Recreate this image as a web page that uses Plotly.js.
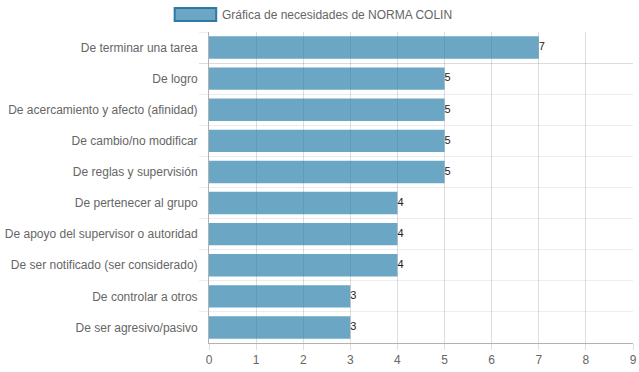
<!DOCTYPE html>
<html>
<head>
<meta charset="utf-8">
<script src="https://cdn.plot.ly/plotly-3.0.1.min.js"></script>
<style>html,body{margin:0;padding:0;background:#fff;}#chart{width:639px;height:372px;}</style>
</head>
<body>
<div id="chart"></div>
<script>
var categories = [
  "De terminar una tarea",
  "De logro",
  "De acercamiento y afecto (afinidad)",
  "De cambio/no modificar",
  "De reglas y supervisión",
  "De pertenecer al grupo",
  "De apoyo del supervisor o autoridad",
  "De ser notificado (ser considerado)",
  "De controlar a otros",
  "De ser agresivo/pasivo"
];
var values = [7, 5, 5, 5, 5, 4, 4, 4, 3, 3];
var seriesName = "Gráfica de necesidades de NORMA COLIN";
var xTicks = [0, 1, 2, 3, 4, 5, 6, 7, 8, 9];

var barFill = "rgba(38,124,170,0.68)";

var bars = {
  type: "bar",
  orientation: "h",
  x: values,
  y: categories,
  name: seriesName,
  marker: {color: barFill, line: {width: 0}},
  hoverinfo: "x+y"
};

var labels = {
  type: "scatter",
  mode: "text",
  x: values,
  y: categories,
  text: values.map(String),
  textposition: "middle right",
  cliponaxis: false,
  textfont: {family: "Liberation Sans, Arial, sans-serif", size: 11, color: "#222"},
  hoverinfo: "skip",
  showlegend: false
};

var layout = {
  width: 639,
  height: 372,
  margin: {l: 209, r: 6, t: 32, b: 29},
  paper_bgcolor: "#fff",
  plot_bgcolor: "#fff",
  showlegend: false,
  bargap: 0.28,
  font: {family: "Liberation Sans, Arial, sans-serif", size: 12, color: "#666"},
  xaxis: {
    range: [0, 9],
    tickvals: xTicks,
    ticktext: xTicks.map(String),
    showgrid: true,
    gridcolor: "rgba(0,0,0,0.13)",
    gridwidth: 1,
    zeroline: false,
    showline: true,
    linecolor: "rgba(0,0,0,0.3)",
    ticks: "outside",
    ticklen: 6,
    tickcolor: "rgba(0,0,0,0.13)",
    tickfont: {size: 12, color: "#666"},
    fixedrange: true
  },
  yaxis: {
    type: "category",
    autorange: "reversed",
    tickson: "boundaries",
    showgrid: true,
    gridcolor: "rgba(0,0,0,0.07)",
    ticks: "outside",
    ticklen: 9,
    tickcolor: "rgba(0,0,0,0.07)",
    showline: true,
    linecolor: "rgba(0,0,0,0.3)",
    zeroline: false,
    tickfont: {size: 12, color: "#666"},
    ticklabelstandoff: 8,
    fixedrange: true
  },
  shapes: [{
    type: "rect",
    xref: "paper", yref: "paper",
    x0: -0.081, x1: 0.017,
    y0: 1.035, y1: 1.077,
    fillcolor: barFill,
    line: {color: "rgba(40,115,160,0.95)", width: 2}
  }],
  annotations: [{
    xref: "paper", yref: "paper",
    x: 0.027, y: 1.056,
    xanchor: "left", yanchor: "middle",
    text: seriesName,
    showarrow: false,
    font: {size: 12, color: "#666"}
  }]
};

Plotly.newPlot("chart", [bars, labels], layout, {displayModeBar: false, staticPlot: true});
</script>
</body>
</html>
